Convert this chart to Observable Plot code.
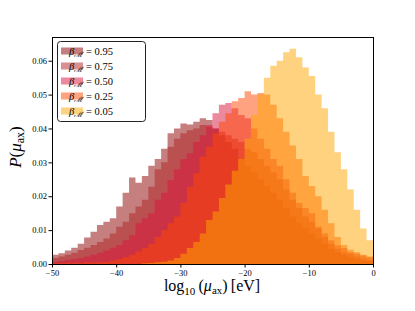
<!DOCTYPE html>
<html><head><meta charset="utf-8">
<script src="https://cdn.jsdelivr.net/npm/d3@7"></script>
<script src="https://cdn.jsdelivr.net/npm/@observablehq/plot@0.6"></script>
<style>body{margin:0;background:#fff}</style>
</head><body><div id="chart"></div>
<script>
// Histogram bin left edges (log10 mu_ax, bin width 1)
const binStart = [-50,-49,-48,-47,-46,-45,-44,-43,-42,-41,-40,-39,-38,-37,-36,-35,-34,-33,-32,-31,
  -30,-29,-28,-27,-26,-25,-24,-23,-22,-21,-20,-19,-18,-17,-16,-15,-14,-13,-12,-11,
  -10,-9,-8,-7,-6,-5,-4,-3,-2,-1];
const binEnd = 0;

const betaLabels = ["0.95","0.75","0.50","0.25","0.05"];
const betaColors = ["#8b0000","#b22222","#dc143c","#ff4500","#ffa500"];

const p95 = [0.0027,0.0032,0.004,0.0048,0.006,0.0078,0.0095,0.0115,0.0125,0.0135,
  0.017,0.021,0.0255,0.024,0.026,0.029,0.031,0.034,0.0386,0.040,
  0.0415,0.0412,0.042,0.043,0.0425,0.040,0.038,0.036,0.034,0.031,
  0.029,0.027,0.025,0.023,0.021,0.019,0.0165,0.014,0.012,0.0105,
  0.009,0.0075,0.006,0.0045,0.0035,0.0027,0.002,0.0015,0.001,0.0008];
const p75 = [0.0018,0.0022,0.0027,0.0033,0.0041,0.0048,0.0056,0.0065,0.0075,0.009,
  0.011,0.0125,0.015,0.017,0.019,0.0228,0.028,0.030,0.0346,0.037,
  0.0386,0.0395,0.040,0.041,0.0405,0.040,0.039,0.038,0.037,0.036,
  0.034,0.033,0.031,0.029,0.027,0.025,0.022,0.019,0.0165,0.014,
  0.0125,0.0105,0.008,0.006,0.0045,0.0035,0.003,0.0022,0.0016,0.0012];
const p50 = [0.0007,0.0009,0.0012,0.0015,0.0018,0.0022,0.0027,0.0033,0.004,0.0048,
  0.0056,0.007,0.0085,0.012,0.0135,0.015,0.019,0.021,0.0248,0.028,
  0.031,0.0327,0.036,0.038,0.041,0.0445,0.047,0.0475,0.046,0.044,
  0.043,0.040,0.037,0.034,0.031,0.029,0.025,0.021,0.018,0.0165,
  0.015,0.011,0.009,0.007,0.0055,0.0047,0.0035,0.003,0.0025,0.002];
const p25 = [0.0002,0.0002,0.0003,0.0003,0.0004,0.0005,0.0005,0.0006,0.0007,0.001,
  0.0014,0.002,0.0027,0.0037,0.0047,0.006,0.008,0.010,0.012,0.014,
  0.018,0.0228,0.0268,0.0317,0.0346,0.0386,0.042,0.0445,0.048,0.049,
  0.051,0.050,0.0505,0.050,0.047,0.043,0.039,0.035,0.031,0.026,
  0.023,0.020,0.016,0.012,0.008,0.0056,0.0042,0.0035,0.0027,0.0022];
const p05 = [0,0,0,0,0,0,0,0,0,0,
  0,0,0,0,0.0002,0.0003,0.0005,0.0007,0.001,0.0018,
  0.003,0.0047,0.0065,0.009,0.013,0.0155,0.0195,0.0235,0.0275,0.031,
  0.037,0.044,0.050,0.055,0.0585,0.060,0.0625,0.0635,0.061,0.058,
  0.0555,0.05,0.046,0.039,0.033,0.028,0.022,0.016,0.0105,0.007];

const xTicks = [-50,-40,-30,-20,-10,0];
const yTicks = [0,0.01,0.02,0.03,0.04,0.05,0.06];

const seriesVals = [p95,p75,p50,p25,p05];
function stepRows(vals){
  const r = binStart.map((x,i)=>({x, y: vals[i]}));
  r.push({x: binEnd, y: vals[vals.length-1]});
  return r;
}

const serif = "Liberation Serif, DejaVu Serif, serif";
const fmtX = d => d < 0 ? "\u2212" + Math.abs(d) : String(d);

const plot = Plot.plot({
  width: 415, height: 311,
  marginLeft: 52, marginRight: 42, marginTop: 37, marginBottom: 47,
  style: {fontFamily: serif, fontSize: "8px", background: "#fff", color: "#000"},
  x: {domain: [-50, 0]},
  y: {domain: [0, 0.067]},
  marks: [
    ...seriesVals.map((v,i) => Plot.areaY(stepRows(v), {
      x: "x", y: "y", curve: "step-after", fill: betaColors[i], fillOpacity: 0.5, clip: true
    })),
    Plot.axisX({ticks: xTicks, tickSize: 3.5, tickPadding: 2, tickFormat: fmtX, label: null, fontSize: 8.5, fill: "#000", stroke: "#000"}),
    Plot.axisY({ticks: yTicks, tickSize: 3.5, tickPadding: 2, tickFormat: d3.format(".2f"), label: null, fontSize: 8.5, fill: "#000", stroke: "#000"}),
    Plot.frame({stroke: "#000", strokeWidth: 1})
  ]
});
document.getElementById("chart").appendChild(plot);

const svg = d3.select(plot);
// x label
const xl = svg.append("text").attr("x", 212).attr("y", 291).attr("text-anchor","middle")
  .style("font-family", serif).style("font-size", "16px").attr("fill","#000");
xl.append("tspan").text("log");
xl.append("tspan").style("font-size", "11px").attr("dy", 4).text("10");
xl.append("tspan").attr("dy", -4).text("\u2009(");
xl.append("tspan").style("font-style","italic").text("\u03bc");
xl.append("tspan").style("font-size", "11px").attr("dy", 3).text("ax");
xl.append("tspan").attr("dy", -3).text(")\u2009[eV]");

// y label
const yl = svg.append("text").attr("transform","translate(21,147) rotate(-90)").attr("text-anchor","middle")
  .style("font-family", serif).style("font-size", "17px").attr("fill","#000");
yl.append("tspan").style("font-style","italic").text("P");
yl.append("tspan").text("(");
yl.append("tspan").style("font-style","italic").text("\u03bc");
yl.append("tspan").style("font-size", "12px").attr("dy", 3).text("ax");
yl.append("tspan").attr("dy", -3).text(")");

// legend
const lg = svg.append("g");
lg.append("rect").attr("x", 57.5).attr("y", 41.5).attr("width", 88).attr("height", 80).attr("rx", 3)
  .attr("fill", "#fff").attr("fill-opacity", 0.8).attr("stroke", "#222").attr("stroke-width", 1);
betaLabels.forEach((lab, i) => {
  const cy = 51 + i * 15;
  lg.append("rect").attr("x", 61).attr("y", cy - 3.5).attr("width", 22).attr("height", 7)
    .attr("fill", betaColors[i]).attr("fill-opacity", 0.5);
  const t = lg.append("text").attr("x", 91).attr("y", cy + 3.5)
    .style("font-family", serif).style("font-size", "10.5px").attr("fill", "#000");
  t.append("tspan").style("font-style","italic").text("\u03b2");
  t.append("tspan").style("font-size", "7.5px").attr("dy", 2.5).style("font-family", "DejaVu Serif, serif").style("font-style","italic").text("\u2133");
  t.append("tspan").attr("dy", -2.5).text(" = " + lab);
});
</script>
</body></html>
